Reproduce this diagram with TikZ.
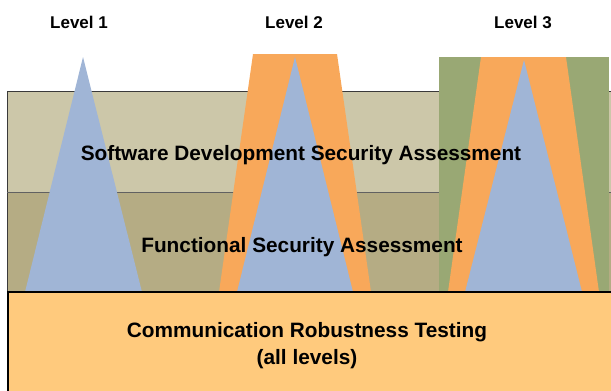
\documentclass[tikz,border=0pt]{standalone}
\usepackage{fontspec}
\setmainfont{Liberation Sans}
\definecolor{bandtop}{HTML}{CCC7A9}
\definecolor{bandmid}{HTML}{B5AC84}
\definecolor{lvlblue}{HTML}{A0B5D6}
\definecolor{lvlorange}{HTML}{F8A85A}
\definecolor{lvlgreen}{HTML}{99A874}
\definecolor{basebox}{HTML}{FFCA7D}
\definecolor{edge}{HTML}{3A3A3A}
\begin{document}
\begin{tikzpicture}[x=1pt,y=-1pt,
  lbl/.style={font=\bfseries\fontsize{17}{20}\selectfont, text=black},
  band/.style={font=\bfseries\fontsize{20.8}{27}\selectfont, text=black}]
\useasboundingbox (0,0) rectangle (611,391);
% bands
\fill[bandtop] (7,91) rectangle (615,192);
\fill[bandmid] (7,192) rectangle (615,292);
\draw[edge, line width=0.9] (615,91) -- (7,91) -- (7,292);
\draw[edge!80, line width=0.7] (7,192) -- (615,192);
% level 1
\fill[lvlblue] (83,57) -- (142,292) -- (25,292) -- cycle;
% level 2
\fill[lvlorange] (253,54) -- (337,54) -- (371,292) -- (219,292) -- cycle;
\fill[lvlblue] (295,57) -- (353,292) -- (237,292) -- cycle;
% level 3
\fill[lvlgreen] (439,57) rectangle (609,292);
\fill[lvlorange] (481,57) -- (566,57) -- (599,292) -- (448,292) -- cycle;
\fill[lvlblue] (524,60) -- (582,292) -- (465,292) -- cycle;
% base box
\draw[black, line width=2, fill=basebox] (8,292) rectangle (620,400);
% texts
\node[lbl] (l1) at (79,22) {Level 1};
\node[lbl] (l2) at (294,22) {Level 2};
\node[lbl] (l3) at (523,22) {Level 3};
\node[band] (sdsa) at (301,155) {Software Development Security Assessment};
\node[band] (fsa) at (302,247) {Functional Security Assessment};
\node[band, align=center] (crt) at (307,346) {Communication Robustness Testing\\(all levels)};
\end{tikzpicture}
\end{document}
